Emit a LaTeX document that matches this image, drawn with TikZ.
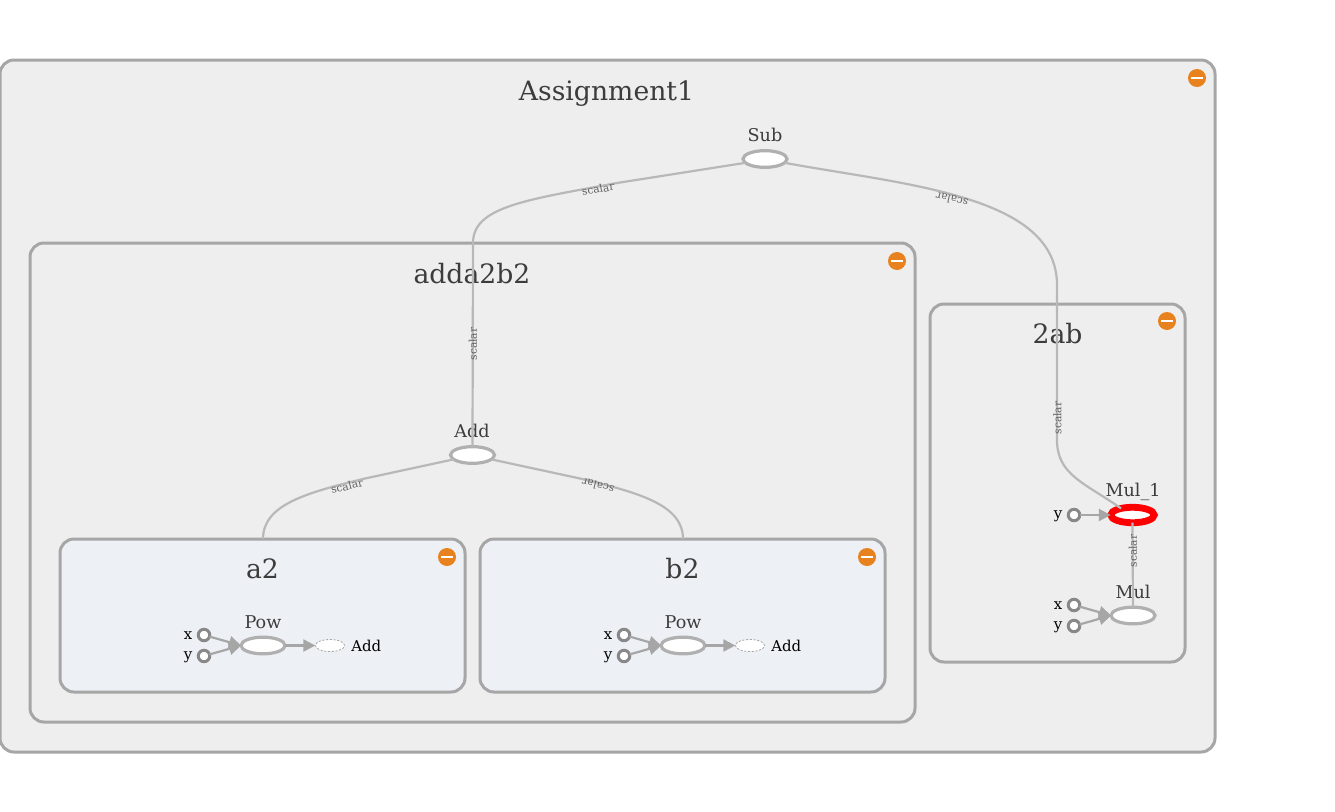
\documentclass[tikz,border=0pt]{standalone}
\usepackage{fontspec}
\setmainfont{DejaVu Serif}
\usetikzlibrary{arrows.meta,shapes.geometric}
\definecolor{framec}{HTML}{A6A6A6}
\definecolor{opline}{HTML}{B0B0B0}
\definecolor{groupfill}{HTML}{EEEEEE}
\definecolor{leaffill}{HTML}{EDF0F5}
\definecolor{edgec}{HTML}{B8B8B8}
\definecolor{arrowc}{HTML}{A6A6A6}
\definecolor{portc}{HTML}{888888}
\definecolor{txt}{HTML}{3C3C3C}
\definecolor{badge}{HTML}{E8821E}
\tikzset{
  x=0.75pt,y=-0.75pt,
  frame/.style={draw=framec,line width=2.25pt,rounded corners=10.5pt,fill=groupfill},
  leaf/.style={frame,fill=leaffill},
  title/.style={font=\fontsize{20pt}{22pt}\selectfont,text=txt,inner sep=0pt,anchor=center},
  oplabel/.style={font=\fontsize{13.2pt}{15pt}\selectfont,text=txt,inner sep=0pt,anchor=center},
  blacklabel/.style={font=\fontsize{11.2pt}{12pt}\selectfont,text=black,inner sep=0pt,anchor=center},
  edgelabel/.style={font=\fontsize{8pt}{9pt}\selectfont,text=black!62,inner sep=0pt,anchor=center},
  opnode/.style={ellipse,draw=opline,line width=2.4pt,fill=white,minimum width=33pt,minimum height=12.5pt,inner sep=0pt,outer sep=0pt},
  hotnode/.style={opnode,draw=red,line width=5.1pt},
  stubnode/.style={ellipse,draw=framec,line width=0.6pt,dash pattern=on 1.6pt off 1.2pt,fill=white,minimum width=22pt,minimum height=9pt,inner sep=0pt,outer sep=0pt},
  port/.style={circle,draw=portc,line width=2.25pt,fill=white,minimum size=8.6pt,inner sep=0pt,outer sep=0pt},
  badgenode/.style={circle,fill=badge,minimum size=13.5pt,inner sep=0pt,outer sep=0pt},
  edgeline/.style={draw=edgec,line width=1.65pt},
  inarrow/.style={draw=arrowc,line width=1.65pt,-{Triangle[length=9pt,width=9pt]}},
  bar/.style={draw=white,line width=2.2pt},
}
\begin{document}
\begin{tikzpicture}
\useasboundingbox (0,0) rectangle (1335,811);
% frames
\path[frame] (0,60) rectangle (1215,752);
\path[frame] (30,243) rectangle (915,722);
\path[frame] (930,304) rectangle (1185,662);
\path[leaf] (60,539) rectangle (465,692);
\path[leaf] (480,539) rectangle (885,692);
% titles
\node[title] (tAssign) at (606.5,93.5) {Assignment1};
\node[title] (tAdda) at (472,273.5) {adda2b2};
\node[title] (t2ab) at (1057.5,333.5) {2ab};
\node[title] (ta2) at (262.5,569) {a2};
\node[title] (tb2) at (682.5,569) {b2};
% badges
\foreach \n/\x/\y in {bA/1197/78,bB/897/261,bC/1167/321,bD/447/557,bE/867/557}{
  \node[badgenode] (\n) at (\x,\y) {};
  \draw[bar] ([xshift=-4.6pt]\n.center) -- ([xshift=4.6pt]\n.center);
}
% ops
\node[opnode] (sub) at (765,159) {};
\node[oplabel] (lsub) at (765,135) {Sub};
\node[opnode] (add) at (472.5,455) {};
\node[oplabel] (ladd) at (472,431) {Add};
\node[hotnode,minimum width=32.6pt,minimum height=11.6pt] (mulb) at (1132.5,515) {};
\node[oplabel] (lmulb) at (1133,491.5) {Mul\_1};
\node[opnode] (mul) at (1133,615.5) {};
\node[oplabel] (lmul) at (1133,592) {Mul};
% a2
\node[opnode] (powa) at (263,645.5) {};
\node[oplabel] (lpowa) at (263,622) {Pow};
\node[stubnode] (stuba) at (330,645.5) {};
\node[blacklabel,anchor=west] (lstuba) at (351,646) {Add};
\node[port] (xa) at (204,635) {};
\node[port] (ya) at (204,656) {};
\node[blacklabel] (lxa) at (188,636) {x};
\node[blacklabel] (lya) at (188,657) {y};
% b2
\node[opnode] (powb) at (683,645.5) {};
\node[oplabel] (lpowb) at (683,622) {Pow};
\node[stubnode] (stubb) at (750,645.5) {};
\node[blacklabel,anchor=west] (lstubb) at (771,646) {Add};
\node[port] (xb) at (624,635) {};
\node[port] (yb) at (624,656) {};
\node[blacklabel] (lxb) at (608,636) {x};
\node[blacklabel] (lyb) at (608,657) {y};
% 2ab ports
\node[port] (ym) at (1074,515) {};
\node[blacklabel] (lym) at (1058,516) {y};
\node[port] (xn) at (1074,605) {};
\node[port] (yn) at (1074,626) {};
\node[blacklabel] (lxn) at (1058,606) {x};
\node[blacklabel] (lyn) at (1058,627) {y};
% connectors
\coordinate (a2top) at (263,539);
\coordinate (b2top) at (683,539);
\draw[edgeline] (sub.191) -- (617,183) .. controls (525,200) and (473,207) .. (473,243) -- (add.north);
\draw[edgeline] (sub.-11) .. controls (905,185) and (1057,195) .. (1057,285) -- (1057,440) .. controls (1057,475) and (1085,483) .. (mulb.150);
\draw[edgeline] (add.193) -- (365,478.5) .. controls (305,493) and (263,505) .. (a2top);
\draw[edgeline] (add.-13) -- (580,478.5) .. controls (640,493) and (683,505) .. (b2top);
\draw[edgeline] (mulb.south) -- (mul.north);
\foreach \p/\q in {xa/powa,ya/powa,xb/powb,yb/powb,xn/mul,yn/mul}{
  \draw[inarrow] (\p) -- (\q.west);
}
\draw[inarrow] (ym) -- (mulb.west);
\draw[inarrow] (powa) -- (stuba);
\draw[inarrow] (powb) -- (stubb);
% edge labels
\node[edgelabel,rotate=10.5] (e1) at (598,189) {scalar};
\node[edgelabel,rotate=167] (e2) at (952,199.5) {scalar};
\node[edgelabel,rotate=90] (e3) at (473,344) {scalar};
\node[edgelabel,rotate=90] (e4) at (1057.5,418) {scalar};
\node[edgelabel,rotate=90] (e5) at (1133,551) {scalar};
\node[edgelabel,rotate=14] (e6) at (347,486) {scalar};
\node[edgelabel,rotate=166] (e7) at (598,486) {scalar};
\end{tikzpicture}
\end{document}
